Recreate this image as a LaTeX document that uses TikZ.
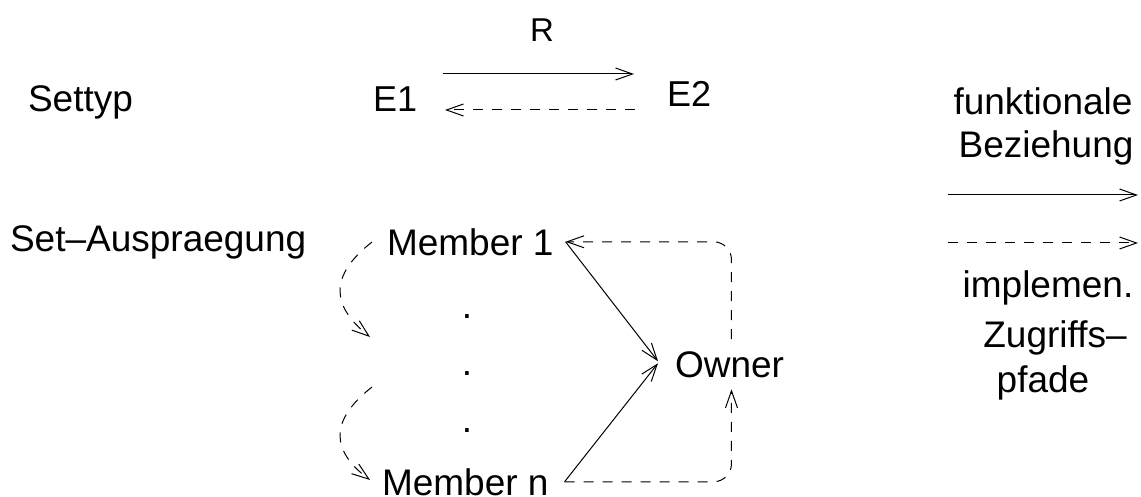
\documentclass[tikz,border=0pt]{standalone}
\usepackage{fontspec}
\setmainfont{Liberation Sans}
\usetikzlibrary{arrows.meta}
\begin{document}
\begin{tikzpicture}[x=1pt,y=-1pt,
  lbl/.style={inner sep=0pt,outer sep=0pt,anchor=base west,font=\fontsize{37}{40}\selectfont},
  lblc/.style={lbl,anchor=base},
  conn/.style={line width=1pt,-{Straight Barb[length=17pt,width=12pt,line width=1pt]}},
  dconn/.style={conn,dash pattern=on 10pt off 9pt}]
\useasboundingbox (0,0) rectangle (1141,497);

% set type row
\node[lblc,font=\fontsize{33}{36}\selectfont] (r) at (542,42) {R};
\node[lbl] (settyp) at (28,112) {Settyp};
\node[lbl,font=\fontsize{36}{38}\selectfont] (e1) at (373,112) {E1};
\node[lbl,font=\fontsize{36}{38}\selectfont] (e2) at (667,107) {E2};
\coordinate (ra) at (443,74);
\coordinate (rb) at (634,74);
\coordinate (ia) at (635,110);
\coordinate (ib) at (445,110);
\draw[conn] (ra) -- (rb);
\draw[dconn] (ia) -- (ib);

% set occurrence
\node[lbl] (setaus) at (10,252) {Set–Auspraegung};
\node[lbl] (m1) at (387,255) {Member 1};
\node[lbl] (mn) at (382,495) {Member n};
\node[lbl] (owner) at (675,377) {Owner};
\node[lblc] (d1) at (467,318) {.};
\node[lblc] (d2) at (467,375) {.};
\node[lblc] (d3) at (467,432) {.};

\draw[conn] ([xshift=12pt]m1.east) -- ([xshift=-17pt,yshift=3pt]owner.west);
\draw[conn] ([xshift=16pt]mn.east) -- ([xshift=-17pt,yshift=1pt]owner.west);
\draw[dconn,rounded corners=18pt] ([xshift=2pt,yshift=12pt]owner.north) |- ([xshift=12pt]m1.east);
\draw[dconn,rounded corners=18pt] ([xshift=16pt]mn.east) -| ([xshift=2pt,yshift=-12pt]owner.south);

% member chain
\coordinate (c1a) at (372,242);
\coordinate (c1b) at (370,337);
\coordinate (c2a) at (372,387);
\coordinate (c2b) at (370,480);
\draw[dconn] (c1a) .. controls (330,275) and (330,305) .. (c1b);
\draw[dconn] (c2a) .. controls (330,420) and (330,450) .. (c2b);

% legend
\node[lblc] (fk) at (1043,115) {funktionale};
\node[lblc] (bz) at (1046,158) {Beziehung};
\coordinate (la) at (948,195);
\coordinate (lb) at (1138,195);
\coordinate (lc) at (948,243);
\coordinate (ld) at (1138,243);
\draw[conn] (la) -- (lb);
\draw[dconn] (lc) -- (ld);
\node[lblc] (im) at (1048,298) {implemen.};
\node[lblc] (zg) at (1055,347) {Zugriffs–};
\node[lblc] (pf) at (1043,392) {pfade};
\end{tikzpicture}
\end{document}
